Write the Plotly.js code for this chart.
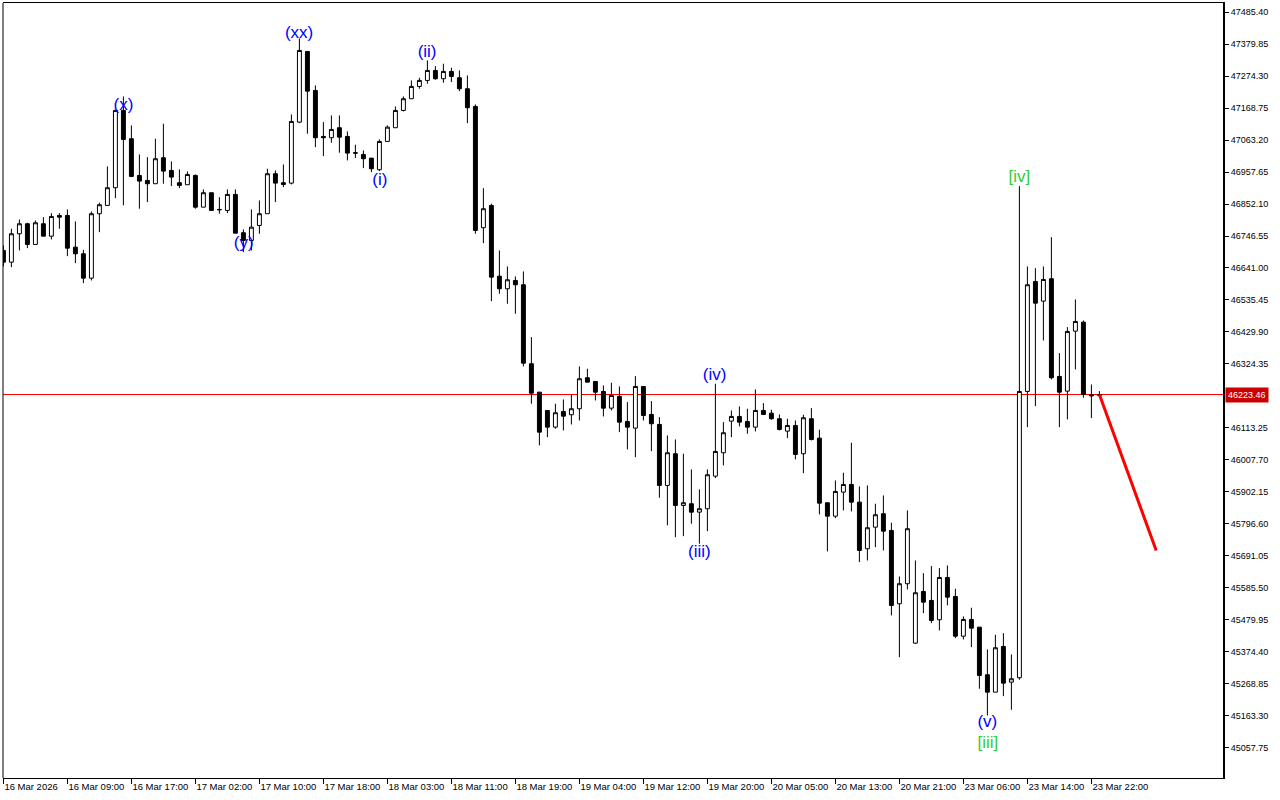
<!DOCTYPE html>
<html>
<head>
<meta charset="utf-8">
<script src="https://cdn.plot.ly/plotly-3.0.1.min.js"></script>
<style>html,body{margin:0;padding:0;background:#fff;}#chart{width:1280px;height:800px;}</style>
</head>
<body>
<div id="chart"></div>
<script>
// Hourly candles (bar 0 = 16 Mar 2026)
const open = [46698.9,46660.3,46754.0,46787.0,46718.7,46787.0,46746.1,46814.4,46814.4,46709.8,
46688.0,46607.5,46820.1,46847.5,46905.9,47161.0,47067.6,46946.5,46930.0,46919.1,
47004.9,46963.0,46922.4,46915.8,46946.5,46841.8,46889.4,46834.2,46831.0,46883.8,
46757.4,46731.9,46781.4,46820.1,46952.1,46922.4,46921.1,47122.4,47355.7,47227.0,
47075.2,47070.9,47103.9,47075.2,47021.4,47015.8,47003.6,46965.3,47058.7,47103.9,
47161.0,47199.6,47240.2,47260.0,47293.0,47265.6,47289.7,47268.9,47232.6,47174.2,
46773.9,46847.5,46614.1,46572.5,46599.9,46585.7,46325.0,46231.3,46170.9,46115.8,
46167.6,46156.7,46176.5,46278.8,46266.6,46233.6,46178.5,46217.1,46134.6,46112.5,
46250.1,46157.7,46124.7,45923.4,46028.0,45857.4,45863.0,45835.3,45846.5,45954.1,
46031.3,46135.6,46151.1,46134.6,46115.8,46170.9,46162.0,46143.5,46102.6,46121.4,
46028.0,46143.5,46079.5,45866.3,45822.0,45901.3,45926.7,45868.3,45714.5,45785.7,
45830.0,45774.9,45532.9,45599.0,45402.9,45573.5,45543.8,45480.1,45619.7,45557.0,
45426.0,45481.1,45455.7,45298.6,45241.2,45392.0,45274.2,45288.7,46233.6,46596.6,
46531.6,46605.5,46283.1,46234.6,46432.6,46462.3,46222.0,46220.0];
const high = [46715.4,46770.5,46801.2,46790.3,46797.9,46808.8,46822.0,46822.0,46834.2,46794.6,
46701.2,46827.6,46856.4,46976.2,47164.3,47207.2,47111.5,47015.8,47006.9,47067.6,
47117.1,46992.7,46966.3,46959.7,46949.8,46900.3,46889.4,46874.8,46900.3,46900.3,
46768.2,46834.2,46864.0,46968.6,46963.0,46982.8,47147.8,47398.6,47355.7,47243.5,
47122.4,47144.5,47144.5,47091.7,47047.8,47029.0,47003.6,47065.3,47111.5,47174.2,
47207.2,47260.0,47268.9,47326.0,47307.2,47315.1,47301.9,47293.0,47276.5,47180.8,
46904.5,46853.1,46698.9,46646.1,46613.1,46629.6,46412.8,46231.3,46170.9,46193.0,
46207.2,46222.7,46316.1,46308.5,46266.6,46253.4,46262.3,46250.1,46198.3,46284.1,
46250.1,46201.6,46148.8,46088.4,46075.2,46028.0,45976.2,45910.2,45976.2,46259.0,
46132.3,46170.9,46184.1,46176.5,46240.2,46195.0,46173.2,46157.7,46143.5,46137.9,
46156.7,46178.5,46107.2,45866.3,45939.9,45965.3,46064.3,45920.1,45923.4,45863.0,
45890.4,45800.3,45623.0,45840.9,45675.8,45633.9,45657.1,45650.5,45659.3,45582.4,
45491.0,45519.7,45455.7,45382.1,45430.6,45435.9,45365.6,46911.1,46646.1,46640.5,
46646.1,46742.8,46360.0,46445.8,46537.2,46467.9,46256.7,46234.6];
const low = [46646.1,46643.8,46698.9,46706.5,46718.7,46746.1,46735.2,46770.5,46680.1,46657.0,
46591.0,46599.9,46759.3,46847.5,46871.5,46847.5,46940.9,46836.6,46858.3,46919.1,
46919.1,46911.1,46904.5,46915.8,46836.6,46841.8,46831.0,46820.1,46822.0,46756.0,
46693.3,46698.9,46754.0,46820.1,46858.3,46907.8,46916.8,47119.1,47084.1,47039.9,
47010.2,47054.4,47021.4,46996.0,47003.6,46970.6,46957.4,46960.7,47058.7,47103.9,
47157.7,47199.6,47232.6,47249.1,47262.3,47252.4,47254.4,47224.7,47119.1,46754.0,
46723.0,46531.6,46556.0,46523.0,46490.0,46316.1,46193.0,46055.4,46082.8,46110.5,
46104.9,46124.7,46137.9,46264.3,46203.9,46151.1,46170.9,46099.3,46042.2,46016.8,
46137.9,46036.6,45882.8,45791.4,45752.7,45756.0,45797.0,45731.0,45772.5,45947.5,
45989.4,46082.8,46118.1,46094.0,46101.6,46157.7,46140.2,46104.9,46079.5,46009.2,
45964.0,46071.9,45827.7,45705.5,45815.4,45840.9,45837.6,45670.2,45675.8,45719.7,
45708.8,45494.3,45356.7,45580.1,45400.9,45501.9,45468.9,45444.8,45527.3,45419.4,
45415.1,45389.7,45252.4,45164.3,45241.2,45228.0,45183.1,45282.1,46115.8,46185.1,
46401.9,46273.2,46115.8,46141.2,46306.2,46212.8,46145.5,46214.8];
const close = [46660.3,46754.0,46787.0,46718.7,46790.3,46746.1,46811.1,46808.8,46706.5,46688.0,
46607.5,46820.1,46849.8,46905.9,47161.0,47065.3,46943.2,46927.7,46919.1,47001.6,
46960.7,46940.9,46913.5,46949.8,46841.8,46889.4,46831.0,46833.3,46883.8,46756.0,
46731.9,46775.8,46820.1,46952.1,46921.1,46916.8,47124.7,47359.0,47224.7,47070.9,
47070.9,47098.3,47072.9,47020.1,47020.1,47001.6,46968.6,47058.7,47105.9,47161.0,
47199.6,47240.2,47260.0,47293.0,47265.6,47289.7,47273.2,47232.6,47169.9,46764.9,
46836.6,46610.8,46572.5,46602.2,46585.7,46327.0,46228.0,46099.3,46115.8,46163.3,
46152.1,46176.5,46275.5,46264.3,46231.3,46178.5,46220.4,46132.3,46115.8,46250.1,
46154.4,46127.0,45923.4,46031.3,45857.4,45866.3,45835.3,45846.5,45958.7,46035.6,
46097.3,46151.1,46132.3,46115.8,46170.9,46157.7,46143.5,46108.2,46121.4,46025.7,
46146.8,46075.2,45865.0,45822.0,45903.6,45926.7,45868.3,45708.8,45783.8,45826.7,
45772.5,45527.3,45599.0,45780.5,45569.2,45538.2,45477.8,45619.7,45554.7,45426.0,
45481.1,45452.4,45296.3,45241.2,45387.7,45270.9,45285.4,46233.6,46585.7,46525.0,
46603.2,46278.8,46231.3,46431.6,46464.6,46223.7,46219.4,46223.46];

const barIndex = open.map((_, i) => i);

// time axis labels (every 8 bars)
const xTickIdx = [0,8,16,24,32,40,48,56,64,72,80,88,96,104,112,120,128,136];
const xTickText = ['16 Mar 2026','16 Mar 09:00','16 Mar 17:00','17 Mar 02:00','17 Mar 10:00',
'17 Mar 18:00','18 Mar 03:00','18 Mar 11:00','18 Mar 19:00','19 Mar 04:00','19 Mar 12:00',
'19 Mar 20:00','20 Mar 05:00','20 Mar 13:00','20 Mar 21:00','23 Mar 06:00','23 Mar 14:00','23 Mar 22:00'];

// price axis labels
const yTickVals = [47485.40,47379.85,47274.30,47168.75,47063.20,46957.65,46852.10,46746.55,
46641.00,46535.45,46429.90,46324.35,46113.25,46007.70,45902.15,45796.60,45691.05,
45585.50,45479.95,45374.40,45268.85,45163.30,45057.75];

const currentPrice = 46223.46;

// Elliott wave labels
const waveText = ['(w)','(x)','(y)','(xx)','(i)','(ii)','(iii)','(iv)','(v)'];
const waveIdx = [-1.16, 15.0, 30.03, 36.96, 47.05, 52.96, 87.0, 88.9, 122.99];
const wavePrice = [46467.9, 47175.8, 46722.0, 47412.8, 46930.0, 47352.4, 45702.2, 46286.4, 45139.5];
const degText = ['[iii]','[iv]'];
const degIdx = [123.05, 127.0];
const degPrice = [45070.2, 46938.2];

// forecast line
const fcIdx = [137, 144.1];
const fcPrice = [46223.46, 45708.8];

const labelFont = 'Liberation Sans, Arial, sans-serif';

const traces = [
  {
    type: 'candlestick', x: barIndex, open: open, high: high, low: low, close: close,
    increasing: {line: {color: '#000000', width: 1}, fillcolor: '#ffffff'},
    decreasing: {line: {color: '#000000', width: 1}, fillcolor: '#000000'},
    whiskerwidth: 0, hoverinfo: 'skip', showlegend: false
  },
  {
    type: 'scatter', mode: 'lines', x: fcIdx, y: fcPrice,
    line: {color: '#ff0000', width: 3}, hoverinfo: 'skip', showlegend: false, cliponaxis: true
  },
  {
    type: 'scatter', mode: 'text', x: waveIdx, y: wavePrice, text: waveText,
    textposition: 'middle center', textfont: {family: labelFont, size: 17, color: '#0000ff'},
    hoverinfo: 'skip', showlegend: false, cliponaxis: false
  },
  {
    type: 'scatter', mode: 'text', x: degIdx, y: degPrice, text: degText,
    textposition: 'middle center', textfont: {family: labelFont, size: 17, color: '#32cd32'},
    hoverinfo: 'skip', showlegend: false, cliponaxis: false
  }
];

const layout = {
  width: 1280, height: 800,
  margin: {l: 3, r: 57, t: 3, b: 22, pad: 0},
  paper_bgcolor: '#ffffff', plot_bgcolor: '#ffffff',
  showlegend: false,
  xaxis: {
    type: 'linear', range: [-0.05, 152.45], fixedrange: true,
    tickmode: 'array', tickvals: xTickIdx, ticktext: xTickText,
    ticks: 'outside', ticklen: 5, tickwidth: 1, tickcolor: '#000000',
    ticklabelposition: 'outside right', tickangle: 0,
    tickfont: {family: labelFont, size: 9.5, color: '#000000'},
    showgrid: false, zeroline: false,
    showline: true, linecolor: '#000000', linewidth: 1, mirror: true,
    rangeslider: {visible: false}
  },
  yaxis: {
    side: 'right', range: [44957.85, 47515.55], fixedrange: true,
    tickmode: 'array', tickvals: yTickVals, ticktext: yTickVals.map(v => v.toFixed(2)),
    ticks: 'outside', ticklen: 4, tickwidth: 1, tickcolor: '#000000',
    tickfont: {family: labelFont, size: 9, color: '#000000'},
    showgrid: false, zeroline: false,
    showline: true, linecolor: '#000000', linewidth: 2
  },
  shapes: [
    {type: 'line', xref: 'paper', yref: 'paper', x0: 0, x1: 0, y0: 0, y1: 1,
     line: {color: '#000000', width: 1}},
    {type: 'line', xref: 'paper', yref: 'y', x0: 0, x1: 1, y0: currentPrice, y1: currentPrice,
     line: {color: '#ff0000', width: 1}, layer: 'below'}
  ],
  annotations: [
    {xref: 'paper', yref: 'y', x: 1, y: currentPrice, xanchor: 'left', yanchor: 'middle',
     xshift: 2, text: currentPrice.toFixed(2), showarrow: false,
     font: {family: labelFont, size: 9, color: '#ffffff'},
     bgcolor: '#cc0000', borderpad: 2}
  ]
};

Plotly.newPlot('chart', traces, layout, {staticPlot: true, displayModeBar: false});
</script>
</body>
</html>
